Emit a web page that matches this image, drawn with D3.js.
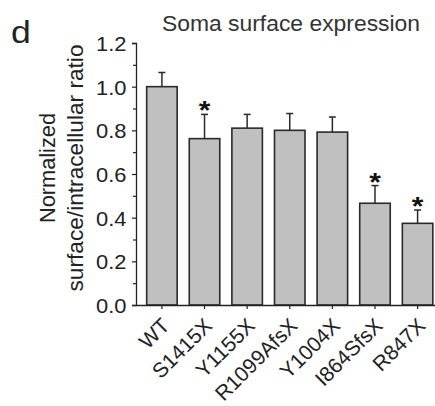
<!DOCTYPE html>
<html>
<head>
<meta charset="utf-8">
<script src="https://cdn.jsdelivr.net/npm/d3@7"></script>
<style>
  html, body { margin: 0; padding: 0; background: #fff; }
  svg { display: block; font-family: "Liberation Sans", Arial, sans-serif; }
</style>
</head>
<body>
<svg id="chart" width="435" height="406"></svg>
<script>
// ---- data ----
const categories = ["WT", "S1415X", "Y1155X", "R1099AfsX", "Y1004X", "I864SfsX", "R847X"];
const means = [1.00, 0.762, 0.81, 0.80, 0.792, 0.466, 0.374];
const errors = [0.065, 0.111, 0.063, 0.077, 0.069, 0.081, 0.061];
const significant = [false, true, false, false, false, true, true];
const majorTicks = [0.0, 0.2, 0.4, 0.6, 0.8, 1.0, 1.2];
const minorTicks = [0.1, 0.3, 0.5, 0.7, 0.9, 1.1];
const titleText = "Soma surface expression";
const yLabelLines = ["Normalized", "surface/intracellular ratio"];
const panelLetter = "d";

const data = categories.map((c, i) => ({ cat: c, mean: means[i], err: errors[i], sig: significant[i] }));

const svg = d3.select("#chart");
const ink = "#222";
const sx = 1.07; // slight horizontal stretch of the original lettering

const x0 = 136, yBase = 305, yTop = 43;
const x = d3.scaleBand().domain(categories)
  .range([x0, 443.5]).paddingInner(0.284).paddingOuter(0.25);
const y = d3.scaleLinear().domain([0, 1.2]).range([yBase, yTop]);

// bars
svg.append("g").selectAll("rect").data(data).join("rect")
  .attr("x", d => x(d.cat))
  .attr("y", d => y(d.mean))
  .attr("width", x.bandwidth())
  .attr("height", d => y(0) - y(d.mean))
  .attr("fill", "#c0c0c0")
  .attr("stroke", "#2a2a2a")
  .attr("stroke-width", 1.6);

// error bars (upper only)
const eb = svg.append("g").attr("stroke", "#2a2a2a").attr("stroke-width", 1.5);
eb.selectAll("line.v").data(data).join("line").attr("class", "v")
  .attr("x1", d => x(d.cat) + x.bandwidth() / 2)
  .attr("x2", d => x(d.cat) + x.bandwidth() / 2)
  .attr("y1", d => y(d.mean))
  .attr("y2", d => y(d.mean + d.err));
eb.selectAll("line.c").data(data).join("line").attr("class", "c")
  .attr("x1", d => x(d.cat) + x.bandwidth() / 2 - 3.5)
  .attr("x2", d => x(d.cat) + x.bandwidth() / 2 + 3.5)
  .attr("y1", d => y(d.mean + d.err))
  .attr("y2", d => y(d.mean + d.err));

// significance asterisks
svg.append("g").selectAll("text").data(data.filter(d => d.sig)).join("text")
  .attr("transform", d => `translate(${x(d.cat) + x.bandwidth() / 2},${y(d.mean + d.err) + 5}) scale(1.15,1)`)
  .attr("text-anchor", "middle")
  .attr("font-size", 26)
  .attr("font-weight", "bold")
  .attr("fill", "#111")
  .text("*");

// y axis
const yAxisG = svg.append("g").attr("transform", `translate(${x0},0)`);
yAxisG.call(d3.axisLeft(y).tickValues(majorTicks).tickFormat(d3.format(".1f"))
  .tickSize(4).tickPadding(6));
yAxisG.append("g").call(d3.axisLeft(y).tickValues(minorTicks).tickFormat("").tickSize(3))
  .select(".domain").remove();
yAxisG.selectAll(".domain").attr("stroke", ink).attr("stroke-width", 1.3);
yAxisG.selectAll(".tick line").attr("stroke", ink).attr("stroke-width", 1.2);
yAxisG.selectAll(".tick text")
  .attr("font-size", 20.5).attr("fill", ink)
  .attr("font-family", "Liberation Sans, Arial, sans-serif")
  .attr("x", -9.5 / sx)
  .attr("dy", "0.36em")
  .attr("transform", `scale(${sx},1)`);

// x axis
const xAxisG = svg.append("g").attr("transform", `translate(0,${yBase})`);
xAxisG.call(d3.axisBottom(x).tickSize(4).tickPadding(6).tickSizeOuter(0));
xAxisG.select(".domain").attr("stroke", ink).attr("stroke-width", 1.3);
xAxisG.selectAll(".tick line").attr("stroke", ink).attr("stroke-width", 1.2);
xAxisG.selectAll(".tick text")
  .attr("font-size", 21).attr("fill", ink)
  .attr("font-family", "Liberation Sans, Arial, sans-serif")
  .attr("text-anchor", "end")
  .attr("y", 0)
  .attr("dy", "0")
  .attr("transform", "translate(9,22) rotate(-45)");

// title
svg.append("text").attr("transform", "translate(291,31) scale(1.04,1)")
  .attr("text-anchor", "middle")
  .attr("font-size", 22).attr("fill", "#333").text(titleText);

// panel letter
svg.append("text").attr("transform", "translate(11,43) scale(1.15,1)")
  .attr("font-size", 31).attr("fill", ink).text(panelLetter);

// y label
const ylLen = [110, 247];
svg.append("g").attr("transform", "translate(55,168) rotate(-90)")
  .selectAll("text").data(yLabelLines).join("text")
  .attr("x", 0).attr("y", (d, i) => i * 28)
  .attr("text-anchor", "middle").attr("font-size", 22).attr("fill", ink)
  .attr("textLength", (d, i) => ylLen[i])
  .attr("lengthAdjust", "spacingAndGlyphs")
  .text(d => d);
</script>
</body>
</html>
